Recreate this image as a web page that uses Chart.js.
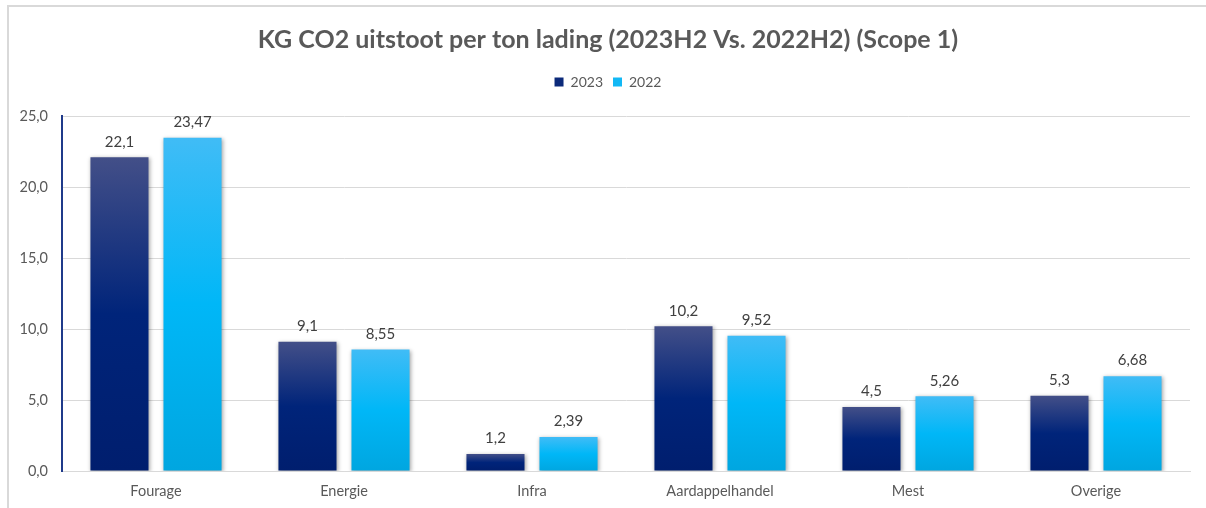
<html lang="nl">
  <head>
    <meta charset="UTF-8" />
    <script src="https://cdn.jsdelivr.net/npm/chart.js"></script>
    <title>KG CO2 uitstoot per ton lading</title>
    <style>
      body { margin: 0; background: #fff; }
      #frame {
        position: absolute; left: 7px; top: 5px; right: 0; bottom: -2px;
        border-left: 2px solid #d9d9d9; border-top: 2px solid #d9d9d9;
      }
      #wrap { position: absolute; left: 0; top: 0; width: 1206px; height: 508px; }
    </style>
  </head>
  <body>
    <div id="frame"></div>
    <div id="wrap"><canvas id="co2Chart" width="1206" height="508"></canvas></div>
    <script>
      const categories = ["Fourage", "Energie", "Infra", "Aardappelhandel", "Mest", "Overige"];
      const values2023 = [22.1, 9.1, 1.2, 10.2, 4.5, 5.3];
      const values2022 = [23.47, 8.55, 2.39, 9.52, 5.26, 6.68];
      const yTicks = [0, 5, 10, 15, 20, 25];

      const FONT = "Lato, 'Liberation Sans', sans-serif";

      // gradient per bar, lighter at the top like the Excel original
      function barGradient(stops) {
        return function (context) {
          const chart = context.chart;
          const yScale = chart.scales.y;
          if (!chart.chartArea || !yScale || context.parsed == null) return stops[1];
          const top = yScale.getPixelForValue(context.parsed.y);
          const bottom = yScale.getPixelForValue(0);
          if (!isFinite(top) || bottom - top < 1) return stops[1];
          const g = chart.ctx.createLinearGradient(0, top, 0, bottom);
          g.addColorStop(0, stops[0]);
          g.addColorStop(0.5, stops[1]);
          g.addColorStop(1, stops[2]);
          return g;
        };
      }

      const fmt = (v) => String(v).replace(".", ",");

      const barShadow = {
        id: "barShadow",
        beforeDatasetsDraw(chart) {
          const ctx = chart.ctx;
          ctx.save();
          ctx.shadowColor = "rgba(0,0,0,0.35)";
          ctx.shadowBlur = 4;
          ctx.shadowOffsetX = 1;
          ctx.shadowOffsetY = 1;
        },
        afterDatasetsDraw(chart) {
          chart.ctx.restore();
        },
      };

      // extra room under the legend, and title + legend centred on the frame
      const headerTweak = {
        id: "headerTweak",
        afterInit(chart) {
          const legend = chart.legend;
          const fit = legend.fit;
          legend.fit = function () {
            fit.call(this);
            this.height += 17;
          };
          [chart.titleBlock, chart.legend].forEach((box) => {
            const draw = box.draw;
            box.draw = function () {
              const c = this.ctx || chart.ctx;
              c.save();
              c.translate(13, 0);
              draw.apply(this, arguments);
              c.restore();
            };
          });
        },
      };

      const valueLabels = {
        id: "valueLabels",
        afterDatasetsDraw(chart) {
          const ctx = chart.ctx;
          ctx.save();
          ctx.font = "15px " + FONT;
          ctx.fillStyle = "#404040";
          ctx.textAlign = "center";
          ctx.textBaseline = "bottom";
          chart.data.datasets.forEach((ds, i) => {
            chart.getDatasetMeta(i).data.forEach((bar, j) => {
              ctx.fillText(fmt(ds.data[j]), bar.x, bar.y - 8);
            });
          });
          ctx.restore();
        },
      };

      const ctx = document.getElementById("co2Chart").getContext("2d");
      new Chart(ctx, {
        type: "bar",
        data: {
          labels: categories,
          datasets: [
            {
              label: "2023",
              data: values2023,
              backgroundColor: barGradient(["#434f88", "#00247a", "#001e6e"]),
              borderWidth: 0,
            },
            {
              label: "2022",
              data: values2022,
              backgroundColor: barGradient(["#40bcf6", "#00b7f7", "#00a6e0"]),
              borderWidth: 0,
            },
          ],
        },
        options: {
          responsive: false,
          animation: false,
          maintainAspectRatio: false,
          layout: { padding: { left: 0, right: 16, top: 0, bottom: 0 } },
          datasets: {
            bar: { categoryPercentage: 0.777, barPercentage: 0.795 },
          },
          plugins: {
            tooltip: { enabled: false },
            title: {
              display: true,
              text: "KG CO2 uitstoot per ton lading (2023H2 Vs. 2022H2) (Scope 1)",
              color: "#595959",
              font: { family: FONT, size: 25, weight: "bold" },
              padding: { top: 25, bottom: 10 },
            },
            legend: {
              display: true,
              labels: {
                color: "#595959",
                font: { family: FONT, size: 14 },
                boxWidth: 9,
                boxHeight: 9,
                padding: 10,
                generateLabels() {
                  return [
                    { text: "2023", fillStyle: "#0c2a7a", strokeStyle: "#0c2a7a", lineWidth: 0, datasetIndex: 0, fontColor: "#595959" },
                    { text: "2022", fillStyle: "#12b8f5", strokeStyle: "#12b8f5", lineWidth: 0, datasetIndex: 1, fontColor: "#595959" },
                  ];
                },
              },
            },
          },
          scales: {
            x: {
              afterFit(scale) { scale.height = 37; },
              grid: { display: false, drawTicks: false },
              border: { color: "#d9d9d9", width: 1 },
              ticks: { color: "#595959", font: { family: FONT, size: 14.5 }, padding: 12 },
            },
            y: {
              min: 0,
              max: 25,
              afterFit(scale) { scale.width = 62; },
              afterBuildTicks(scale) { scale.ticks = yTicks.map((v) => ({ value: v })); },
              grid: { color: "#d9d9d9", drawTicks: false },
              border: { color: "#1f3a8a", width: 2 },
              ticks: {
                color: "#595959",
                font: { family: FONT, size: 14.5 },
                padding: 14,
                callback: (v) => v.toFixed(1).replace(".", ","),
              },
            },
          },
        },
        plugins: [barShadow, headerTweak, valueLabels],
      });
    </script>
  </body>
</html>
